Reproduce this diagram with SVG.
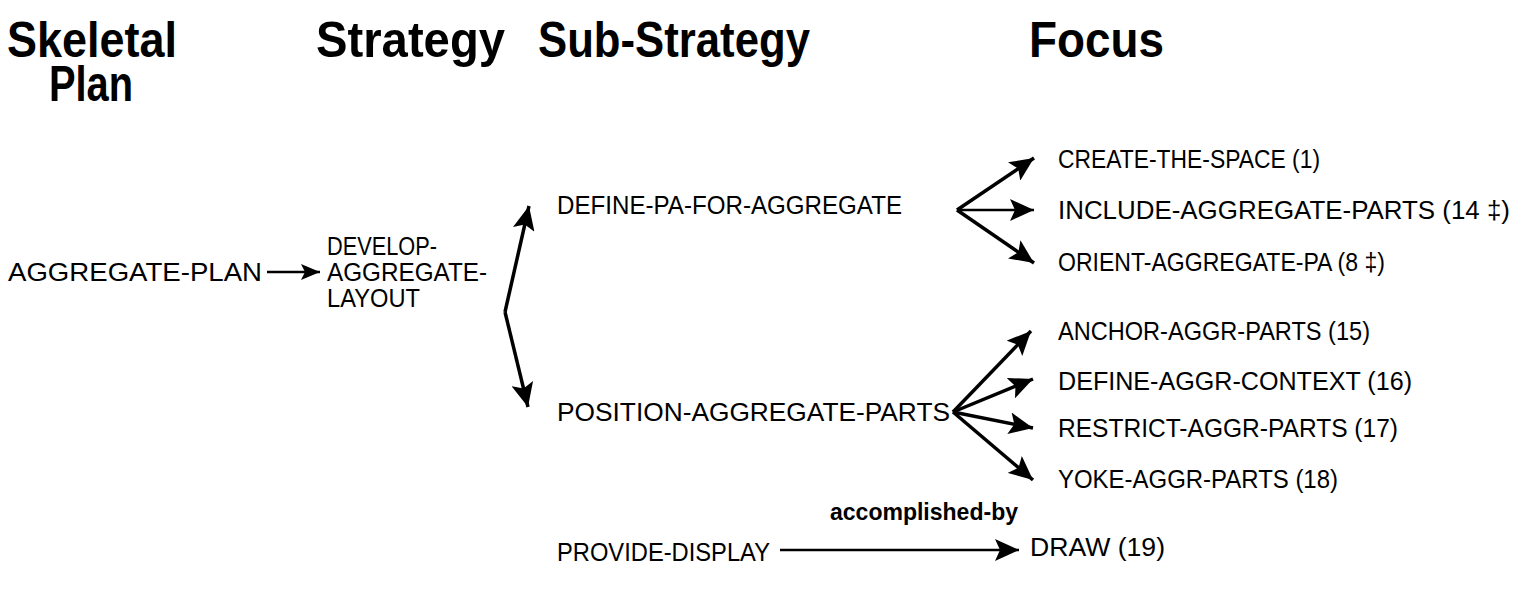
<svg xmlns="http://www.w3.org/2000/svg" width="1528" height="595" viewBox="0 0 1528 595">
  <style>
    .hdr { font-family: "Liberation Sans", Arial, Helvetica, sans-serif; font-weight: bold; font-size: 50px; fill: #000; }
    .lbl { font-family: "Liberation Sans", Arial, Helvetica, sans-serif; font-size: 25px; fill: #000; }
    .rel { font-family: "Liberation Sans", Arial, Helvetica, sans-serif; font-weight: bold; font-size: 24px; fill: #000; }
    .edge { fill: none; stroke: #000; stroke-width: 3.5; stroke-linejoin: round; }
    .thin { stroke-width: 2.6; }
  </style>
  <defs>
    <marker id="head" markerUnits="userSpaceOnUse" markerWidth="26" markerHeight="22" refX="24" refY="11" orient="auto">
      <path d="M0,0 L24,11 L0,22 L5,11 z" fill="#000"/>
    </marker>
    <marker id="headSmall" markerUnits="userSpaceOnUse" markerWidth="20" markerHeight="16" refX="19" refY="8" orient="auto">
      <path d="M0,0 L19,8 L0,16 L4,8 z" fill="#000"/>
    </marker>
  </defs>

  <!-- column headings -->
  <g id="headings">
    <text class="hdr" x="7" y="57" textLength="170" lengthAdjust="spacingAndGlyphs">Skeletal</text>
    <text class="hdr" x="49" y="101" textLength="84" lengthAdjust="spacingAndGlyphs">Plan</text>
    <text class="hdr" x="316" y="57" textLength="189" lengthAdjust="spacingAndGlyphs">Strategy</text>
    <text class="hdr" x="538" y="57" textLength="272" lengthAdjust="spacingAndGlyphs">Sub-Strategy</text>
    <text class="hdr" x="1029" y="57" textLength="135" lengthAdjust="spacingAndGlyphs">Focus</text>
  </g>

  <!-- connectors -->
  <g id="connectors">
    <line class="edge thin" x1="267" y1="272" x2="320" y2="272" marker-end="url(#headSmall)"/>
    <line class="edge" x1="505" y1="312" x2="529" y2="206" marker-end="url(#head)"/>
    <line class="edge" x1="505" y1="312" x2="528" y2="407" marker-end="url(#head)"/>

    <line class="edge" x1="957" y1="210" x2="1034" y2="158" marker-end="url(#head)"/>
    <line class="edge thin" x1="957" y1="210" x2="1034" y2="210" marker-end="url(#head)"/>
    <line class="edge" x1="957" y1="210" x2="1034" y2="263" marker-end="url(#head)"/>

    <line class="edge" x1="953" y1="412" x2="1031" y2="331" marker-end="url(#head)"/>
    <line class="edge" x1="953" y1="412" x2="1033" y2="379" marker-end="url(#head)"/>
    <line class="edge" x1="953" y1="412" x2="1033" y2="428" marker-end="url(#head)"/>
    <line class="edge" x1="953" y1="412" x2="1033" y2="480" marker-end="url(#head)"/>

    <line class="edge thin" x1="780" y1="550" x2="1019" y2="550" marker-end="url(#head)"/>
    <text class="rel" x="830" y="520" textLength="188" lengthAdjust="spacingAndGlyphs">accomplished-by</text>
  </g>

  <!-- skeletal plan -->
  <g id="aggregate-plan">
    <text class="lbl" x="8" y="281" textLength="254" lengthAdjust="spacingAndGlyphs">AGGREGATE-PLAN</text>
  </g>

  <!-- strategy -->
  <g id="develop-aggregate-layout">
    <text class="lbl" x="327" y="255" textLength="110" lengthAdjust="spacingAndGlyphs">DEVELOP-</text>
    <text class="lbl" x="327" y="281" textLength="160" lengthAdjust="spacingAndGlyphs">AGGREGATE-</text>
    <text class="lbl" x="327" y="307" textLength="93" lengthAdjust="spacingAndGlyphs">LAYOUT</text>
  </g>

  <!-- sub-strategies -->
  <g id="define-pa-for-aggregate">
    <text class="lbl" x="557" y="214" textLength="345" lengthAdjust="spacingAndGlyphs">DEFINE-PA-FOR-AGGREGATE</text>
  </g>
  <g id="position-aggregate-parts">
    <text class="lbl" x="557" y="421" textLength="393" lengthAdjust="spacingAndGlyphs">POSITION-AGGREGATE-PARTS</text>
  </g>
  <g id="provide-display">
    <text class="lbl" x="557" y="561" textLength="213" lengthAdjust="spacingAndGlyphs">PROVIDE-DISPLAY</text>
  </g>

  <!-- foci -->
  <g id="create-the-space">
    <text class="lbl" x="1058" y="168" textLength="262" lengthAdjust="spacingAndGlyphs">CREATE-THE-SPACE (1)</text>
  </g>
  <g id="include-aggregate-parts">
    <text class="lbl" x="1058" y="219" textLength="452" lengthAdjust="spacingAndGlyphs">INCLUDE-AGGREGATE-PARTS (14 ‡)</text>
  </g>
  <g id="orient-aggregate-pa">
    <text class="lbl" x="1058" y="271" textLength="327" lengthAdjust="spacingAndGlyphs">ORIENT-AGGREGATE-PA (8 ‡)</text>
  </g>
  <g id="anchor-aggr-parts">
    <text class="lbl" x="1058" y="340" textLength="312" lengthAdjust="spacingAndGlyphs">ANCHOR-AGGR-PARTS (15)</text>
  </g>
  <g id="define-aggr-context">
    <text class="lbl" x="1058" y="390" textLength="354" lengthAdjust="spacingAndGlyphs">DEFINE-AGGR-CONTEXT (16)</text>
  </g>
  <g id="restrict-aggr-parts">
    <text class="lbl" x="1058" y="437" textLength="340" lengthAdjust="spacingAndGlyphs">RESTRICT-AGGR-PARTS (17)</text>
  </g>
  <g id="yoke-aggr-parts">
    <text class="lbl" x="1058" y="488" textLength="280" lengthAdjust="spacingAndGlyphs">YOKE-AGGR-PARTS (18)</text>
  </g>
  <g id="draw">
    <text class="lbl" x="1030" y="556" textLength="135" lengthAdjust="spacingAndGlyphs">DRAW (19)</text>
  </g>
</svg>
